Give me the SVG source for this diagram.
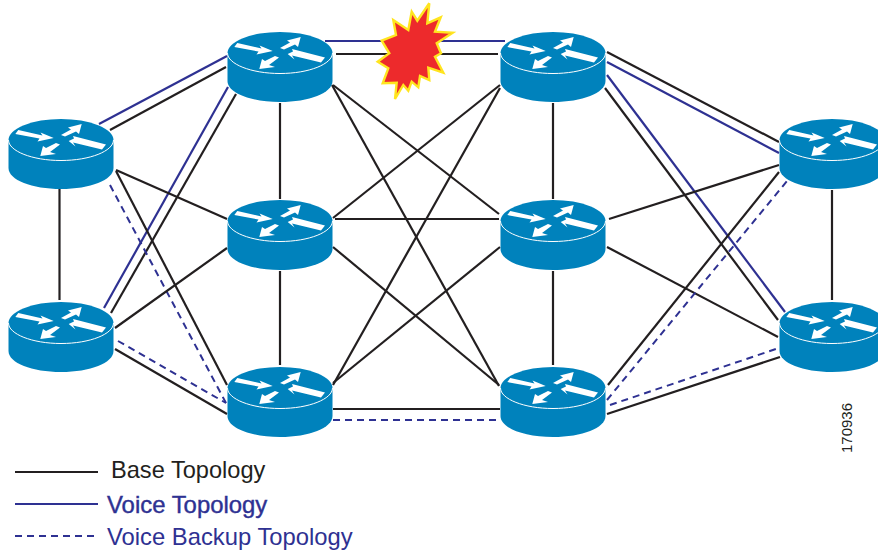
<svg xmlns="http://www.w3.org/2000/svg" width="878" height="554" viewBox="0 0 878 554">
<style>
.b{stroke:#231f20;stroke-width:2.2;fill:none}
.v{stroke:#2e3192;stroke-width:2.2;fill:none}
.d{stroke:#2e3192;stroke-width:2;stroke-dasharray:7 5;fill:none}
text{font-family:"Liberation Sans",Arial,sans-serif}
</style>
<defs>
<g id="router">
<path d="M-52.5 0V28C-52.5 40 -29 49 0 49S52.5 40 52.5 28V0Z" fill="#0082bc"/>
<ellipse cx="0" cy="0" rx="52.5" ry="21" fill="#0082bc"/>
<path d="M-52.5 0C-52.5 11 -29 20.5 0 20.5S52.5 11 52.5 0" fill="none" stroke="#fff" stroke-width="1"/>
<g fill="#fff">
<polygon points="-45.7,-6 -42.7,-10 -18.5,-4.5 -20.5,-7.5 -7.3,-2 -23.5,1.5 -21.5,-1.5"/>
<polygon points="20.7,-16 7,-12.5 10,-10.5 0,-5 4,-3.5 15,-8.5 18,-6"/>
<polygon points="7.7,1 13,-1.5 12,-4 45,4.5 41,9.5 12,2.5 14.5,6.5"/>
<polygon points="-20.7,16 -18,6 -15,8 -5,3 -1,4.5 -11,12 -5,14"/>
</g>
</g>
</defs>
<g id="connectors">
<line class="b" x1="59.5" y1="189" x2="59.5" y2="300"/>
<line class="b" x1="110" y1="130" x2="226" y2="67"/>
<line class="v" x1="99" y1="124" x2="227" y2="56"/>
<line class="v" x1="104" y1="308" x2="228" y2="87"/>
<line class="b" x1="111" y1="313" x2="236" y2="94"/>
<line class="b" x1="116" y1="171" x2="227" y2="385"/>
<line class="b" x1="116" y1="170" x2="227" y2="219"/>
<line class="d" x1="110" y1="185" x2="226" y2="403"/>
<line class="b" x1="115" y1="328" x2="227" y2="248"/>
<line class="d" x1="118" y1="341" x2="226" y2="403"/>
<line class="b" x1="115" y1="349" x2="227" y2="414"/>
<line class="b" x1="280" y1="103" x2="280" y2="199"/>
<line class="b" x1="280" y1="271" x2="280" y2="365"/>
<line class="b" x1="336" y1="54" x2="498" y2="54"/>
<line class="v" x1="325" y1="41" x2="505" y2="41"/>
<line class="b" x1="333" y1="85" x2="499" y2="214"/>
<line class="b" x1="332" y1="85" x2="499" y2="386"/>
<line class="b" x1="333" y1="218" x2="500" y2="85"/>
<line class="b" x1="335" y1="219" x2="499" y2="219"/>
<line class="b" x1="333" y1="247" x2="499" y2="385"/>
<line class="b" x1="333" y1="385" x2="500" y2="88"/>
<line class="b" x1="333" y1="383" x2="500" y2="247"/>
<line class="b" x1="333" y1="409" x2="500" y2="409"/>
<line class="d" x1="333" y1="420" x2="500" y2="420"/>
<line class="b" x1="553" y1="103" x2="553" y2="199"/>
<line class="b" x1="553" y1="271" x2="553" y2="365"/>
<line class="b" x1="607" y1="52" x2="779" y2="142"/>
<line class="v" x1="607" y1="62" x2="779" y2="153"/>
<line class="v" x1="607" y1="75" x2="785" y2="312"/>
<line class="b" x1="605" y1="88" x2="778" y2="320"/>
<line class="b" x1="609" y1="219" x2="779" y2="165"/>
<line class="b" x1="607" y1="247" x2="778" y2="337"/>
<line class="b" x1="608" y1="385" x2="779" y2="172"/>
<line class="d" x1="607" y1="400" x2="787" y2="181"/>
<line class="d" x1="610" y1="405" x2="779" y2="348"/>
<line class="b" x1="607" y1="414" x2="780" y2="357"/>
<line class="b" x1="832" y1="190" x2="832" y2="300"/>
</g>
<g id="node-l1"><use href="#router" x="61" y="140"/></g>
<g id="node-l2"><use href="#router" x="61" y="323"/></g>
<g id="node-a1"><use href="#router" x="280" y="53"/></g>
<g id="node-a2"><use href="#router" x="280" y="221"/></g>
<g id="node-a3"><use href="#router" x="280" y="388"/></g>
<g id="node-b1"><use href="#router" x="553" y="53"/></g>
<g id="node-b2"><use href="#router" x="553" y="221"/></g>
<g id="node-b3"><use href="#router" x="553" y="388"/></g>
<g id="node-r1"><use href="#router" x="832" y="140"/></g>
<g id="node-r2"><use href="#router" x="832" y="323"/></g>
<g id="failure">
<polygon fill="#ed2a2c" stroke="#ffe51f" stroke-width="2.4" points="429.3,3.3 417.3,20.7 411.7,11.7 408.3,30 393.3,20 396,35 381.7,40.7 389.3,53.3 377.7,61.7 388.3,68.3 382.7,83.3 396.7,82.7 395,99 403.3,85 408.3,90.7 411.7,81.7 418.3,87.3 420,76 429.3,80 428.3,67.7 443.3,72.7 435,56.7 441,53.3 436.7,43.3 452.7,32.7 435,31.7 440.7,17.3 427.3,23.3"/>
</g>
<g id="legend">
<line class="b" x1="15" y1="472" x2="98" y2="472"/>
<line class="v" x1="15" y1="504" x2="98" y2="504"/>
<line class="d" x1="15" y1="536" x2="96" y2="536"/>
<text x="111" y="478" font-size="23.6" fill="#231f20">Base Topology</text>
<text x="107" y="513" font-size="23.9" fill="#2e3192" stroke="#2e3192" stroke-width=".4">Voice Topology</text>
<text x="107" y="545" font-size="23.8" fill="#2e3192">Voice Backup Topology</text>
<text transform="translate(852 453) rotate(-90)" font-size="15" fill="#231f20">170936</text>
</g>
</svg>
